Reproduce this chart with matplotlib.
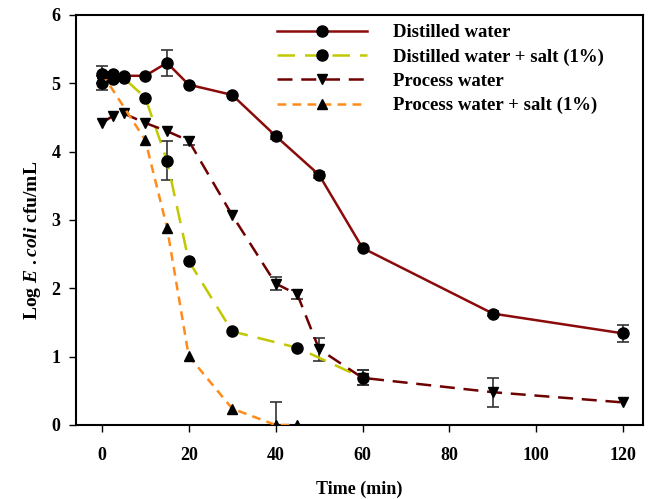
import numpy as np
import matplotlib
matplotlib.use("Agg")
import matplotlib.pyplot as plt

plt.rcParams['font.family'] = 'Liberation Serif'
plt.rcParams['font.weight'] = 'bold'
plt.rcParams['mathtext.fontset'] = 'custom'
plt.rcParams['mathtext.it'] = 'Liberation Serif:italic:bold'
plt.rcParams['mathtext.rm'] = 'Liberation Serif:bold'

# Distilled water
t_dw = [0, 2.5, 5, 10, 15, 20, 30, 40, 50, 60, 90, 120]
y_dw = [5.13, 5.14, 5.11, 5.11, 5.30, 4.98, 4.83, 4.23, 3.66, 2.59, 1.63, 1.34]
e_dw = [0.13, 0.03, 0.03, 0.0, 0.19, 0.0, 0.0, 0.05, 0.04, 0.0, 0.04, 0.12]

# Distilled water + salt (1%)
t_dws = [0, 2.5, 5, 10, 15, 20, 30, 45, 60]
y_dws = [5.00, 5.06, 5.08, 4.79, 3.87, 2.40, 1.37, 1.13, 0.69]
e_dws = [0.10, 0.0, 0.0, 0.0, 0.29, 0.0, 0.0, 0.0, 0.11]

# Process water
t_pw = [0, 2.5, 5, 10, 15, 20, 30, 40, 45, 50, 60, 90, 120]
y_pw = [4.42, 4.52, 4.56, 4.42, 4.30, 4.16, 3.07, 2.07, 1.91, 1.11, 0.69, 0.48, 0.33]
e_pw = [0.0, 0.0, 0.0, 0.0, 0.0, 0.06, 0.0, 0.10, 0.06, 0.17, 0.11, 0.21, 0.0]

# Process water + salt (1%)
t_pws = [0, 10, 15, 20, 30, 40, 45]
y_pws = [5.15, 4.17, 2.89, 1.01, 0.24, 0.0, 0.0]
e_pws = [0.0, 0.0, 0.0, 0.0, 0.0, 0.33, 0.0]

series = [
    (t_dw, y_dw, e_dw, "Distilled water", '#8B0A0A', '-', 'o', None),
    (t_dws, y_dws, e_dws, "Distilled water + salt (1%)", '#C2C800', '--', 'o', (7, 4)),
    (t_pw, y_pw, e_pw, "Process water", '#6E0000', '--', 'v', (6, 3.5)),
    (t_pws, y_pws, e_pws, "Process water + salt (1%)", '#FF8C1A', '--', '^', (3.5, 2.5)),
]

fig = plt.figure(figsize=(6.5, 4.99), dpi=100)
ax = fig.add_axes([0.1165, 0.1483, 0.8725, 0.8217])

for t, y, e, lab, col, ls, mk, dash in series:
    e = np.array(e)
    mask = e > 0
    ax.errorbar(np.array(t)[mask], np.array(y)[mask], yerr=e[mask], fmt='none',
                ecolor='#333333', elinewidth=1.2, capsize=4, capthick=1.2, zorder=2)
    line, = ax.plot(t, y, color=col, linestyle=ls, linewidth=1.8, marker=mk,
                    markersize=8 if mk == 'o' else 7.5, markerfacecolor='black',
                    markeredgecolor='black', label=lab, zorder=3)
    if dash is not None:
        line.set_dashes(dash)

ax.set_xlim(-6, 124.5)
ax.set_ylim(0, 6)
ax.set_xticks(range(0, 121, 20))
ax.set_yticks(range(0, 7))
ax.tick_params(axis='x', direction='out', length=5, width=1, pad=11, labelsize=13)
ax.tick_params(axis='y', direction='out', length=5, width=1, pad=6, labelsize=13)
for s in ax.spines.values():
    s.set_linewidth(1.5)

ax.set_xlabel("Time (min)", fontsize=13, fontweight='bold', labelpad=12)
ax.set_ylabel(r"Log $E\ .coli$ cfu/mL", fontsize=14, fontweight='bold')
ax.yaxis.set_label_coords(-0.058, 0.45)

ax.legend(loc='upper left', bbox_to_anchor=(0.326, 1.019), frameon=False,
          fontsize=13.5, handlelength=4.8, handletextpad=1.35, labelspacing=0.38,
          borderpad=0.4)

fig.savefig("out.png", dpi=100)
